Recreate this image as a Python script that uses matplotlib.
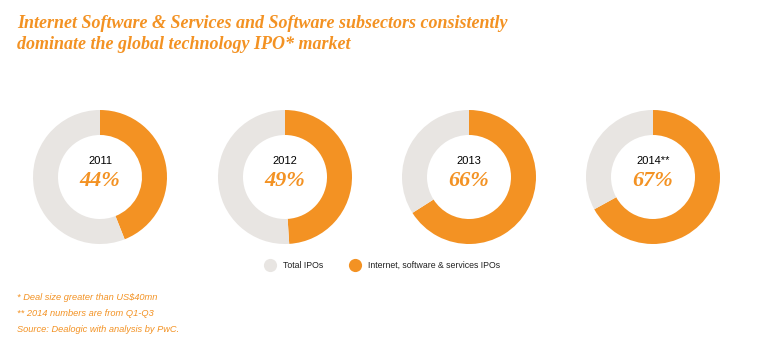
import matplotlib.pyplot as plt

years = ['2011', '2012', '2013', '2014**']
shares = [44, 49, 66, 67]
legend_labels = ['Total IPOs', 'Internet, software & services IPOs']
notes = ['* Deal size greater than US$40mn',
         '** 2014 numbers are from Q1-Q3',
         'Source: Dealogic with analysis by PwC.']
title = ('Internet Software & Services and Software subsectors consistently\n'
         'dominate the global technology IPO* market')

orange = '#F39223'
grey = '#E8E5E2'
W, H = 760, 345

fig = plt.figure(figsize=(W / 100, H / 100), dpi=100)

# overlay axes in pixel coordinates for legend and text
bg = fig.add_axes([0, 0, 1, 1])
bg.set_xlim(0, W)
bg.set_ylim(H, 0)
bg.axis('off')

bg.text(17, 15, title, color=orange, fontsize=13, family='Liberation Serif',
        fontweight='bold', style='italic', va='top', ha='left', linespacing=1.3)

centers = [100, 285, 469, 653]
r = 67
for cx, yr, s in zip(centers, years, shares):
    ax = fig.add_axes([(cx - r) / W, 1 - (177 + r) / H, 2 * r / W, 2 * r / H])
    ax.pie([s, 100 - s], colors=[orange, grey], startangle=90, counterclock=False,
           wedgeprops=dict(width=25 / r, linewidth=0))
    ax.set_xlim(-1, 1)
    ax.set_ylim(-1, 1)
    ax.set_aspect('equal')
    ax.axis('off')
    ax.text(0, 0.24, yr, ha='center', va='center', fontsize=8, color='black', family='Liberation Sans')
    ax.text(0, -0.06, f'{s}%', ha='center', va='center', fontsize=16, color=orange,
            family='Liberation Serif', fontweight='bold', style='italic')

# legend
lx = [270, 355]
for x, lab, c in zip(lx, legend_labels, [grey, orange]):
    bg.scatter([x], [265], s=90, color=c, linewidths=0)
    bg.text(x + 13, 265, lab, fontsize=6.3, va='center', ha='left',
            family='Liberation Sans', color='#222222')

for i, n in enumerate(notes):
    bg.text(17, 298 + 16 * i, n, fontsize=6.7, color=orange, style='italic',
            family='Liberation Sans', va='center', ha='left')

fig.savefig('out.png', dpi=100)
